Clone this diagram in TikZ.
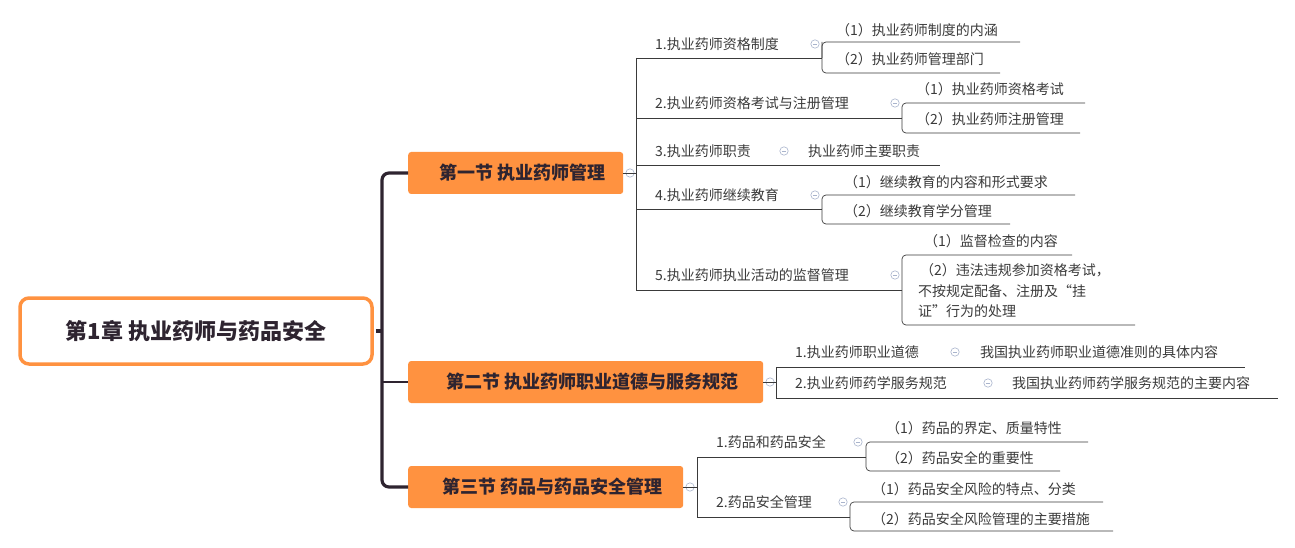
\documentclass[tikz,border=0pt]{standalone}
\usepackage{fontspec}
\setmainfont{Noto Sans CJK SC}
\definecolor{org}{HTML}{FF9240}
\definecolor{ln}{HTML}{3A3A3A}
\definecolor{tr}{HTML}{2E2430}
\definecolor{ic}{HTML}{A9B4CC}
\tikzset{x=1pt,y=-1pt,
 t/.style={anchor=west,inner sep=0pt,font=\fontsize{14}{16}\selectfont,text=ln},
 sec/.style={fill=org,rounded corners=3pt,minimum height=42pt,anchor=west,inner sep=0pt,font=\fontsize{18}{20}\selectfont\bfseries,text=tr},
 ul/.style={draw=ln,line width=0.7pt,rounded corners=4pt},
 ico/.pic={\draw[ic,line width=0.6pt,fill=white] (0,0) circle (4.2pt); \draw[ic,line width=0.7pt] (-2.2,0)--(2.2,0);}}
\begin{document}
\begin{tikzpicture}
\useasboundingbox (0,0) rectangle (1295,548);
% root
\node[draw=org,line width=3.5pt,rounded corners=9pt,minimum width=352pt,minimum height=66pt,font=\fontsize{22}{24}\selectfont\bfseries,text=tr] (root) at (196,331) {第1章 执业药师与药品安全};
% sections
\node[sec,minimum width=215pt] (s1) at (408,173) {\hspace*{14pt}第一节 执业药师管理\hfill};
\node[sec,minimum width=355pt] (s2) at (408,382) {\hspace*{14pt}第二节 执业药师职业道德与服务规范\hfill};
\node[sec,minimum width=275pt] (s3) at (408,487) {\hspace*{14pt}第三节 药品与药品安全管理\hfill};
% trunk
\draw[tr,line width=3.2pt] (root.east)++(2,0) -- (382,331);
\draw[tr,line width=3.2pt,rounded corners=7pt] (s1.west) -- (382,173) -- (382,487) -- (s3.west);
\draw[tr,line width=1.2pt] (382,382) -- (s2.west);
\pic at (630,173) {ico}; \pic at (770,382) {ico}; \pic at (690,487) {ico};
% S1 children
\draw[ul] (623,173)--(636,173);
\draw[ul] (636,58)--(636,290);
\draw[ul] (636,58)--(822,58); \node[t] (a1) at (655,44) {1.执业药师资格制度}; \pic at (815,44) {ico};
\draw[ul] (822,42)--(822,73)--(1000,73); \draw[ul] (822,58)--(822,42)--(1020,42);
\node[t] (a11) at (836,30) {（1）执业药师制度的内涵};
\node[t] (a12) at (836,59) {（2）执业药师管理部门};
\draw[ul] (636,118)--(902,118); \node[t] (a2) at (655,103) {2.执业药师资格考试与注册管理}; \pic at (895,103) {ico};
\draw[ul] (902,118)--(902,103)--(1085,103); \draw[ul] (902,118)--(902,133)--(1080,133);
\node[t] (a21) at (916,89) {（1）执业药师资格考试};
\node[t] (a22) at (916,119) {（2）执业药师注册管理};
\draw[ul] (636,165)--(940,165); \node[t] (a3) at (655,151) {3.执业药师职责}; \pic at (784,151) {ico};
\node[t] (a31) at (808,151) {执业药师主要职责};
\draw[ul] (636,209)--(822,209); \node[t] (a4) at (655,195) {4.执业药师继续教育}; \pic at (815,195) {ico};
\draw[ul] (822,209)--(822,195)--(1075,195); \draw[ul] (822,209)--(822,224)--(1010,224);
\node[t] (a41) at (844,182) {（1）继续教育的内容和形式要求};
\node[t] (a42) at (844,211) {（2）继续教育学分管理};
\draw[ul] (636,290)--(902,290); \node[t] (a5) at (655,275) {5.执业药师执业活动的监督管理}; \pic at (895,275) {ico};
\draw[ul] (902,290)--(902,255)--(1072,255); \draw[ul] (902,290)--(902,325)--(1135,325);
\node[t] (a51) at (924,241) {（1）监督检查的内容};
\node[t,align=left,font=\fontsize{14}{20.5}\selectfont] (a52) at (918,291) {\hspace*{2pt}（2）违法违规参加资格考试，\\不按规定配备、注册及“挂\\证”行为的处理};
% S2 children
\draw[ul] (763,382)--(776,382);
\draw[ul] (776,367)--(776,398);
\draw[ul] (776,367)--(1245,367); \node[t] (b1) at (795,352) {1.执业药师职业道德}; \pic at (955,352) {ico};
\node[t] (b11) at (980,352) {我国执业药师职业道德准则的具体内容};
\draw[ul] (776,398)--(1278,398); \node[t] (b2) at (795,383) {2.执业药师药学服务规范}; \pic at (988,383) {ico};
\node[t] (b21) at (1012,383) {我国执业药师药学服务规范的主要内容};
% S3 children
\draw[ul] (683,487)--(697,487);
\draw[ul] (697,457)--(697,517);
\draw[ul] (697,457)--(866,457); \node[t] (c1) at (716,442) {1.药品和药品安全}; \pic at (858,442) {ico};
\draw[ul] (866,457)--(866,442)--(1088,442); \draw[ul] (866,457)--(866,471)--(1060,471);
\node[t] (c11) at (886,428) {（1）药品的界定、质量特性};
\node[t] (c12) at (886,458) {（2）药品安全的重要性};
\draw[ul] (697,517)--(850,517); \node[t] (c2) at (716,502) {2.药品安全管理}; \pic at (843,502) {ico};
\draw[ul] (850,517)--(850,502)--(1103,502); \draw[ul] (850,517)--(850,531)--(1113,531);
\node[t] (c21) at (872,489) {（1）药品安全风险的特点、分类};
\node[t] (c22) at (872,519) {（2）药品安全风险管理的主要措施};
\end{tikzpicture}
\end{document}
